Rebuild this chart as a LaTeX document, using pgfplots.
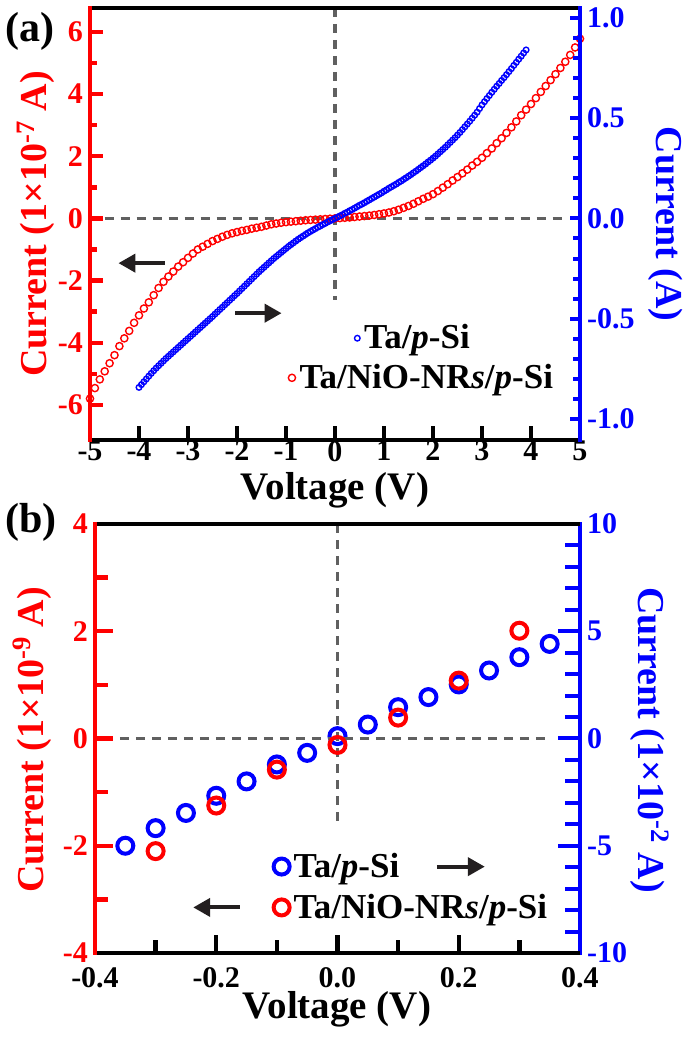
\documentclass[border=0pt]{standalone}
\usepackage{pgfplots}
\pgfplotsset{compat=1.18}
\usepackage{fontspec}
\setmainfont{Liberation Serif}
\usetikzlibrary{arrows.meta}
\definecolor{dgray}{HTML}{606060}
\definecolor{arr}{HTML}{231F20}
\newcommand{\fs}[1]{\fontsize{#1}{#1}\selectfont\bfseries}

\pgfplotsset{
  common/.style={scale only axis, clip=false, tick align=inside,
    axis line style={draw=none},
    legend cell align=left,
    legend style={draw=none, fill=none, font=\fs{17.5}, inner sep=0pt, anchor=west},
    legend image code/.code={\draw[mark repeat=2,mark phase=2,##1] plot coordinates {(0pt,0pt)(4pt,0pt)(8pt,0pt)};},
    ticklabel style={font=\fs{15}},
  },
  xax/.style={common, xtick pos=left, ytick pos=left,
    every tick/.style={black, line width=2pt},
    yticklabel style={red},
    after end axis/.code={
      \draw[black, line width=2.3pt] (rel axis cs:0,0) -- (rel axis cs:1,0);
      \draw[black, line width=2.3pt] (rel axis cs:0,1) -- (rel axis cs:1,1);
      \draw[red, line width=2.4pt] (rel axis cs:0,-0.004) -- (rel axis cs:0,1.004);
    }},
  rightax/.style={common, xtick=\empty, ytick pos=right,
    yticklabel style={blue},
    every tick/.style={blue, line width=2pt},
    after end axis/.code={
      \draw[blue, line width=2.4pt] (rel axis cs:1,-0.004) -- (rel axis cs:1,1.004);
    }},
}
\tikzset{
  zl/.style={dgray, line width=1.8pt, dash pattern=on 4.5pt off 3.5pt},
  ar/.style={arr, line width=2pt, -{Triangle[length=8.5pt,width=9pt]}},
  tk/.style={line width=2.2pt},
}

\begin{document}
\begin{tikzpicture}
\useasboundingbox (0,0) rectangle (342.5pt,519pt);

% ===================== panel (a) =====================
\begin{axis}[xax, at={(45pt,299pt)}, width=245pt, height=216pt,
  xmin=-5, xmax=5, ymin=-7.13, ymax=6.77,
  xtick={-5,-4,-3,-2,-1,0,1,2,3,4,5},
  xticklabels={-5,-4,-3,-2,-1,0,1,2,3,4,5},
  xticklabel style={yshift=3pt},
  ytick={-6,-4,-2,0,2,4,6}, yticklabels={-6,-4,-2,0,2,4,6},
  major tick length=0pt, minor tick length=0pt,
  legend style={at={(axis cs:-0.96,-5.13)}},
]
\pgfplotsinvokeforeach{-4,-3,-2,-1,0,1,2,3,4}{\draw[tk, black] (axis cs:#1,-7.13) -- (axis cs:#1,-6.68);}
\pgfplotsinvokeforeach{-6,-4,-2,0,2,4,6}{\draw[tk, red] (axis cs:-5,#1) -- (axis cs:-4.73,#1);}
\pgfplotsinvokeforeach{-5,-3,-1,1,3,5}{\draw[tk, red] (axis cs:-5,#1) -- (axis cs:-4.85,#1);}
\draw[zl] (axis cs:-4.7,0) -- (axis cs:4.73,0);
\draw[zl] (axis cs:0,6.77) -- (axis cs:0,-2.62);
\addplot[only marks, mark=o, mark size=1.8pt, mark options={red, line width=0.7pt}] table {
-5.0 -5.80
-4.9 -5.46
-4.8 -5.18
-4.7 -4.92
-4.6 -4.66
-4.5 -4.40
-4.4 -4.11
-4.3 -3.86
-4.2 -3.62
-4.1 -3.36
-4.0 -3.12
-3.9 -2.90
-3.8 -2.70
-3.7 -2.47
-3.6 -2.24
-3.5 -2.04
-3.4 -1.87
-3.3 -1.71
-3.2 -1.55
-3.1 -1.41
-3.0 -1.27
-2.9 -1.13
-2.8 -1.00
-2.7 -0.91
-2.6 -0.82
-2.5 -0.73
-2.4 -0.66
-2.3 -0.59
-2.2 -0.53
-2.1 -0.48
-2.0 -0.44
-1.9 -0.40
-1.8 -0.37
-1.7 -0.33
-1.6 -0.30
-1.5 -0.27
-1.4 -0.23
-1.3 -0.19
-1.2 -0.165
-1.1 -0.14
-1.0 -0.12
-0.9 -0.105
-0.8 -0.09
-0.7 -0.075
-0.6 -0.06
-0.5 -0.05
-0.4 -0.04
-0.3 -0.03
-0.2 -0.02
-0.1 -0.01
0.0 0.00
0.1 0.01
0.2 0.02
0.3 0.03
0.4 0.045
0.5 0.06
0.6 0.075
0.7 0.09
0.8 0.11
0.9 0.135
1.0 0.16
1.1 0.19
1.2 0.23
1.3 0.28
1.4 0.34
1.5 0.40
1.6 0.47
1.7 0.55
1.8 0.63
1.9 0.70
2.0 0.78
2.1 0.88
2.2 0.99
2.3 1.10
2.4 1.22
2.5 1.33
2.6 1.45
2.7 1.57
2.8 1.70
2.9 1.82
3.0 1.95
3.1 2.10
3.2 2.25
3.3 2.42
3.4 2.58
3.5 2.75
3.6 2.93
3.7 3.12
3.8 3.32
3.9 3.50
4.0 3.68
4.1 3.87
4.2 4.07
4.3 4.26
4.4 4.45
4.5 4.64
4.6 4.84
4.7 5.04
4.8 5.26
4.9 5.50
5.0 5.78
};
\addlegendentry{Ta/NiO-NR\textit{s}/\textit{p}-Si}
\draw[ar] (axis cs:-3.47,-1.44) -- (axis cs:-4.42,-1.44);
\draw[ar] (axis cs:-2.04,-3.05) -- (axis cs:-1.09,-3.05);
\end{axis}

\begin{axis}[rightax, at={(45pt,299pt)}, width=245pt, height=216pt,
  xmin=-5, xmax=5, ymin=-1.104, ymax=1.048,
  ytick={-1,-0.5,0,0.5,1}, yticklabels={-1.0,-0.5,0.0,0.5,1.0},
  minor ytick={-0.9,-0.8,-0.7,-0.6,-0.4,-0.3,-0.2,-0.1,0.1,0.2,0.3,0.4,0.6,0.7,0.8,0.9},
  major tick length=5pt, minor tick length=3.5pt,
  legend style={at={(axis cs:0.39,-0.597)}},
]
\addplot[only marks, mark=o, mark size=1.4pt, mark options={blue, line width=0.7pt}] table {
-4.00 -0.842
-3.95 -0.828
-3.90 -0.814
-3.85 -0.800
-3.80 -0.786
-3.75 -0.772
-3.70 -0.759
-3.65 -0.746
-3.60 -0.734
-3.55 -0.722
-3.50 -0.710
-3.45 -0.698
-3.40 -0.687
-3.35 -0.676
-3.30 -0.665
-3.25 -0.654
-3.20 -0.643
-3.15 -0.632
-3.10 -0.621
-3.05 -0.610
-3.00 -0.599
-2.95 -0.588
-2.90 -0.577
-2.85 -0.566
-2.80 -0.555
-2.75 -0.544
-2.70 -0.533
-2.65 -0.522
-2.60 -0.511
-2.55 -0.500
-2.50 -0.489
-2.45 -0.477
-2.40 -0.466
-2.35 -0.454
-2.30 -0.443
-2.25 -0.431
-2.20 -0.420
-2.15 -0.408
-2.10 -0.397
-2.05 -0.385
-2.00 -0.374
-1.95 -0.362
-1.90 -0.350
-1.85 -0.338
-1.80 -0.326
-1.75 -0.314
-1.70 -0.302
-1.65 -0.290
-1.60 -0.278
-1.55 -0.266
-1.50 -0.255
-1.45 -0.244
-1.40 -0.233
-1.35 -0.222
-1.30 -0.211
-1.25 -0.200
-1.20 -0.190
-1.15 -0.180
-1.10 -0.170
-1.05 -0.160
-1.00 -0.150
-0.95 -0.140
-0.90 -0.131
-0.85 -0.122
-0.80 -0.113
-0.75 -0.104
-0.70 -0.096
-0.65 -0.088
-0.60 -0.080
-0.55 -0.072
-0.50 -0.065
-0.45 -0.058
-0.40 -0.051
-0.35 -0.044
-0.30 -0.038
-0.25 -0.031
-0.20 -0.025
-0.15 -0.018
-0.10 -0.012
-0.05 -0.006
0.00 0.000
0.05 0.006
0.10 0.012
0.15 0.018
0.20 0.025
0.25 0.031
0.30 0.038
0.35 0.044
0.40 0.051
0.45 0.058
0.50 0.065
0.55 0.071
0.60 0.078
0.65 0.085
0.70 0.092
0.75 0.099
0.80 0.106
0.85 0.113
0.90 0.120
0.95 0.127
1.00 0.135
1.05 0.142
1.10 0.150
1.15 0.157
1.20 0.164
1.25 0.171
1.30 0.179
1.35 0.186
1.40 0.194
1.45 0.202
1.50 0.210
1.55 0.218
1.60 0.227
1.65 0.235
1.70 0.244
1.75 0.253
1.80 0.262
1.85 0.271
1.90 0.281
1.95 0.290
2.00 0.300
2.05 0.310
2.10 0.321
2.15 0.332
2.20 0.343
2.25 0.354
2.30 0.366
2.35 0.378
2.40 0.390
2.45 0.402
2.50 0.415
2.55 0.428
2.60 0.442
2.65 0.456
2.70 0.470
2.75 0.484
2.80 0.499
2.85 0.514
2.90 0.529
2.95 0.547
3.00 0.565
3.05 0.581
3.10 0.597
3.15 0.612
3.20 0.628
3.25 0.643
3.30 0.658
3.35 0.672
3.40 0.687
3.45 0.701
3.50 0.716
3.55 0.731
3.60 0.746
3.65 0.762
3.70 0.777
3.75 0.793
3.80 0.808
3.85 0.824
3.90 0.839
};
\addlegendentry{Ta/\textit{p}-Si}
\end{axis}

% ===================== panel (b) =====================
\begin{axis}[rightax, at={(47.5pt,42.5pt)}, width=242.5pt, height=214.5pt,
  xmin=-0.4, xmax=0.4, ymin=-10, ymax=10,
  ytick={-10,-5,0,5,10}, yticklabels={-10,-5,0,5,10},
  minor ytick={-9,-8,-7,-6,-4,-3,-2,-1,1,2,3,4,6,7,8,9},
  major tick length=11pt, minor tick length=7.5pt,
  legend style={at={(axis cs:-0.106,-5.97)}},
]
\addplot[only marks, mark=o, mark size=4pt, mark options={blue, line width=2pt}] table {
-0.35 -5.00
-0.30 -4.18
-0.25 -3.47
-0.20 -2.67
-0.15 -2.00
-0.10 -1.21
-0.05 -0.67
0.00 0.11
0.05 0.65
0.10 1.46
0.15 1.93
0.20 2.52
0.25 3.17
0.30 3.79
0.35 4.41
};
\addlegendentry{Ta/\textit{p}-Si}
\end{axis}

\begin{axis}[xax, at={(47.5pt,42.5pt)}, width=242.5pt, height=214.5pt,
  xmin=-0.4, xmax=0.4, ymin=-4, ymax=4,
  xtick={-0.4,-0.2,0,0.2,0.4}, xticklabels={-0.4,-0.2,0.0,0.2,0.4},
  xticklabel style={yshift=-3.5pt},
  ytick={-4,-2,0,2,4}, yticklabels={-4,-2,0,2,4},
  major tick length=0pt, minor tick length=0pt,
  legend style={at={(axis cs:-0.106,-3.15)}},
]
\pgfplotsinvokeforeach{-0.2,0,0.2}{\draw[tk, black] (axis cs:#1,-4) -- (axis cs:#1,-3.66);}
\pgfplotsinvokeforeach{-0.3,-0.1,0.1,0.3}{\draw[tk, black] (axis cs:#1,-4) -- (axis cs:#1,-3.76);}
\pgfplotsinvokeforeach{-2,0,2}{\draw[tk, red] (axis cs:-0.4,#1) -- (axis cs:-0.3703,#1);}
\pgfplotsinvokeforeach{-3,-1,1,3}{\draw[tk, red] (axis cs:-0.4,#1) -- (axis cs:-0.3786,#1);}
\addplot[only marks, mark=o, mark size=4pt, mark options={red, line width=2pt}] table {
-0.3 -2.10
-0.2 -1.25
-0.1 -0.58
0.0 -0.12
0.1 0.39
0.2 1.08
0.3 2.01
};
\addlegendentry{Ta/NiO-NR\textit{s}/\textit{p}-Si}
\draw[zl] (axis cs:-0.359,0) -- (axis cs:0.35,0);
\draw[zl] (axis cs:0,4) -- (axis cs:0,-1.53);
\draw[ar] (axis cs:-0.161,-3.15) -- (axis cs:-0.238,-3.15);
\draw[ar] (axis cs:0.164,-2.39) -- (axis cs:0.243,-2.39);
\end{axis}

% ===================== labels =====================
\node[font=\fs{21}, inner sep=0pt] at (15pt,503.5pt) {(a)};
\node[font=\fs{21}, inner sep=0pt] at (15.5pt,258pt) {(b)};
\node[font=\fs{19}, red, rotate=90, inner sep=0pt] at (18pt,407pt) {Current (1×10\textsuperscript{-7} A)};
\node[font=\fs{19}, blue, rotate=-90, inner sep=0pt] at (333pt,407pt) {Current (A)};
\node[font=\fs{19.5}, inner sep=0pt] at (167.5pt,274pt) {Voltage (V)};
\node[font=\fs{19}, red, rotate=90, inner sep=0pt] at (16pt,149pt) {Current (1×10\textsuperscript{-9} A)};
\node[font=\fs{19}, blue, rotate=-90, inner sep=0pt] at (325pt,149pt) {Current (1×10\textsuperscript{-2} A)};
\node[font=\fs{19.5}, inner sep=0pt] at (168.5pt,14.5pt) {Voltage (V)};
\end{tikzpicture}
\end{document}
